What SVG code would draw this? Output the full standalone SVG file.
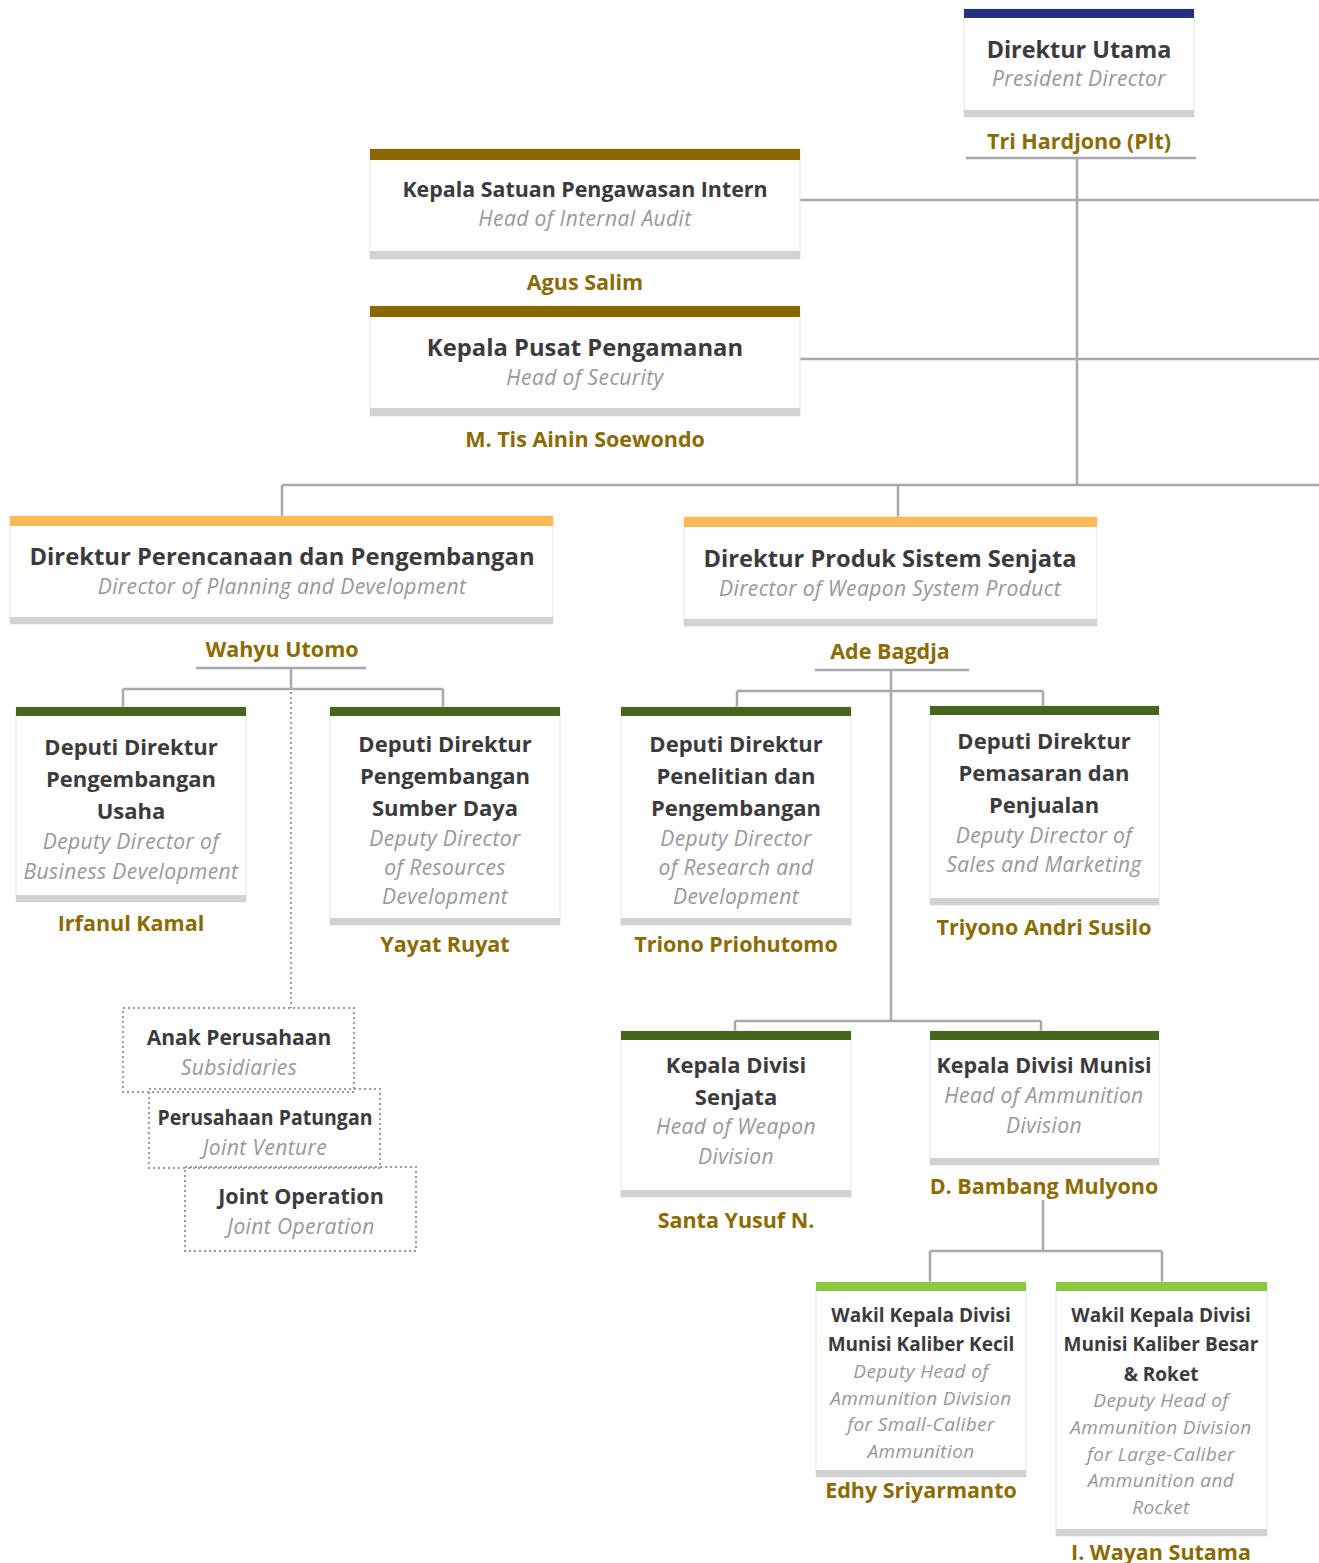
<svg xmlns="http://www.w3.org/2000/svg" width="1319" height="1563" viewBox="0 0 1319 1563">
<style>
text{font-family:"Open Sans","Noto Sans",sans-serif;text-anchor:middle}
.t{font-weight:700;fill:#3b3b3d}
.s{font-style:italic;font-weight:400;fill:#96989b;letter-spacing:0.4px}
.n{font-weight:700;fill:#8b6b00;font-size:21.5px}
.bx{fill:#fff;stroke:#e4e5e6;stroke-width:1}
.gb{fill:#d1d2d4}
.navy{fill:#24317e}
.gold{fill:#8b6700}
.org{fill:#fdb955}
.dg{fill:#46661c}
.lg{fill:#8dc63f}
.c{stroke:#a7a9ac;stroke-width:2.5;fill:none}
.d{stroke:#9a9a9a;stroke-width:2;stroke-dasharray:2 3;fill:none}
</style>
<g id="connectors">
<path class="c" d="M966 158H1196M1077 158V485M800 200H1319M800 359H1319M282 485H1319M282 485V516M898 485V517"/>
<path class="c" d="M196 668H366M291 668V689M123 689H443M123 689V707M443 689V707"/>
<path class="d" d="M291 692V1008"/>
<path class="c" d="M815 670H969M891 670V1021M737 691H1043M737 691V707M1043 691V706M735 1021H1041M735 1021V1031M1041 1021V1031"/>
<path class="c" d="M1043 1200V1251M930 1251H1162M930 1251V1282M1162 1251V1282"/>
</g>
<g id="direktur-utama">
<rect class="bx" x="964" y="9" width="230" height="108"/>
<rect class="navy" x="964" y="9" width="230" height="9"/>
<rect class="gb" x="964" y="110" width="230" height="7"/>
<text class="t" x="1079" y="58" font-size="23.4">Direktur Utama</text>
<text class="s" x="1079" y="86" font-size="21">President Director</text>
<text class="n" x="1079" y="149">Tri Hardjono (Plt)</text>
</g>
<g id="kepala-spi">
<rect class="bx" x="370" y="149" width="430" height="110"/>
<rect class="gold" x="370" y="149" width="430" height="11"/>
<rect class="gb" x="370" y="251" width="430" height="8"/>
<text class="t" x="585" y="197" font-size="21.4">Kepala Satuan Pengawasan Intern</text>
<text class="s" x="585" y="226" font-size="21">Head of Internal Audit</text>
<text class="n" x="585" y="290">Agus Salim</text>
</g>
<g id="kepala-pusat-pengamanan">
<rect class="bx" x="370" y="306" width="430" height="110"/>
<rect class="gold" x="370" y="306" width="430" height="11"/>
<rect class="gb" x="370" y="408" width="430" height="8"/>
<text class="t" x="585" y="356" font-size="23.8">Kepala Pusat Pengamanan</text>
<text class="s" x="585" y="385" font-size="21">Head of Security</text>
<text class="n" x="585" y="447">M. Tis Ainin Soewondo</text>
</g>
<g id="direktur-perencanaan">
<rect class="bx" x="10" y="516" width="543" height="108"/>
<rect class="org" x="10" y="516" width="543" height="10"/>
<rect class="gb" x="10" y="617" width="543" height="7"/>
<text class="t" x="282" y="565" font-size="23.8">Direktur Perencanaan dan Pengembangan</text>
<text class="s" x="282" y="594" font-size="21">Director of Planning and Development</text>
<text class="n" x="282" y="657">Wahyu Utomo</text>
</g>
<g id="direktur-produk">
<rect class="bx" x="684" y="517" width="413" height="109"/>
<rect class="org" x="684" y="517" width="413" height="10"/>
<rect class="gb" x="684" y="619" width="413" height="7"/>
<text class="t" x="890" y="567" font-size="23.7">Direktur Produk Sistem Senjata</text>
<text class="s" x="890" y="596" font-size="21">Director of Weapon System Product</text>
<text class="n" x="890" y="659">Ade Bagdja</text>
</g>
<g id="deputi-usaha">
<rect class="bx" x="16" y="707" width="230" height="195"/>
<rect class="dg" x="16" y="707" width="230" height="9"/>
<rect class="gb" x="16" y="895" width="230" height="7"/>
<text class="t" x="131" y="755" font-size="22">Deputi Direktur</text>
<text class="t" x="131" y="787" font-size="22">Pengembangan</text>
<text class="t" x="131" y="819" font-size="22">Usaha</text>
<text class="s" x="131" y="849" font-size="21">Deputy Director of</text>
<text class="s" x="131" y="879" font-size="21">Business Development</text>
<text class="n" x="131" y="931">Irfanul Kamal</text>
</g>
<g id="deputi-sumber-daya">
<rect class="bx" x="330" y="707" width="230" height="218"/>
<rect class="dg" x="330" y="707" width="230" height="9"/>
<rect class="gb" x="330" y="918" width="230" height="7"/>
<text class="t" x="445" y="752" font-size="22">Deputi Direktur</text>
<text class="t" x="445" y="784" font-size="22">Pengembangan</text>
<text class="t" x="445" y="816" font-size="22">Sumber Daya</text>
<text class="s" x="445" y="846" font-size="21">Deputy Director</text>
<text class="s" x="445" y="875" font-size="21">of Resources</text>
<text class="s" x="445" y="904" font-size="21">Development</text>
<text class="n" x="445" y="952">Yayat Ruyat</text>
</g>
<g id="deputi-penelitian">
<rect class="bx" x="621" y="707" width="230" height="218"/>
<rect class="dg" x="621" y="707" width="230" height="9"/>
<rect class="gb" x="621" y="918" width="230" height="7"/>
<text class="t" x="736" y="752" font-size="22">Deputi Direktur</text>
<text class="t" x="736" y="784" font-size="22">Penelitian dan</text>
<text class="t" x="736" y="816" font-size="22">Pengembangan</text>
<text class="s" x="736" y="846" font-size="21">Deputy Director</text>
<text class="s" x="736" y="875" font-size="21">of Research and</text>
<text class="s" x="736" y="904" font-size="21">Development</text>
<text class="n" x="736" y="952">Triono Priohutomo</text>
</g>
<g id="deputi-pemasaran">
<rect class="bx" x="930" y="706" width="229" height="199"/>
<rect class="dg" x="930" y="706" width="229" height="9"/>
<rect class="gb" x="930" y="898" width="229" height="7"/>
<text class="t" x="1044" y="749" font-size="22">Deputi Direktur</text>
<text class="t" x="1044" y="781" font-size="22">Pemasaran dan</text>
<text class="t" x="1044" y="813" font-size="22">Penjualan</text>
<text class="s" x="1044" y="843" font-size="21">Deputy Director of</text>
<text class="s" x="1044" y="872" font-size="21">Sales and Marketing</text>
<text class="n" x="1044" y="935">Triyono Andri Susilo</text>
</g>
<g id="anak-perusahaan">
<rect class="d" x="123" y="1008" width="231" height="84"/>
<text class="t" x="239" y="1045" font-size="21">Anak Perusahaan</text>
<text class="s" x="239" y="1075" font-size="21">Subsidiaries</text>
</g>
<g id="perusahaan-patungan">
<rect class="d" x="149" y="1089" width="231" height="79"/>
<text class="t" x="265" y="1125" font-size="21" textLength="215" lengthAdjust="spacingAndGlyphs">Perusahaan Patungan</text>
<text class="s" x="265" y="1155" font-size="21">Joint Venture</text>
</g>
<g id="joint-operation">
<rect class="d" x="185" y="1167" width="231" height="84"/>
<text class="t" x="301" y="1204" font-size="21.5">Joint Operation</text>
<text class="s" x="301" y="1234" font-size="21">Joint Operation</text>
</g>
<g id="kepala-divisi-senjata">
<rect class="bx" x="621" y="1031" width="230" height="166"/>
<rect class="dg" x="621" y="1031" width="230" height="9"/>
<rect class="gb" x="621" y="1190" width="230" height="7"/>
<text class="t" x="736" y="1073" font-size="22">Kepala Divisi</text>
<text class="t" x="736" y="1105" font-size="22">Senjata</text>
<text class="s" x="736" y="1134" font-size="21">Head of Weapon</text>
<text class="s" x="736" y="1164" font-size="21">Division</text>
<text class="n" x="736" y="1228">Santa Yusuf N.</text>
</g>
<g id="kepala-divisi-munisi">
<rect class="bx" x="930" y="1031" width="229" height="134"/>
<rect class="dg" x="930" y="1031" width="229" height="9"/>
<rect class="gb" x="930" y="1158" width="229" height="7"/>
<text class="t" x="1044" y="1073" font-size="21.5">Kepala Divisi Munisi</text>
<text class="s" x="1044" y="1103" font-size="21">Head of Ammunition</text>
<text class="s" x="1044" y="1133" font-size="21">Division</text>
<text class="n" x="1044" y="1194">D. Bambang Mulyono</text>
</g>
<g id="wakil-kaliber-kecil">
<rect class="bx" x="816" y="1282" width="210" height="195"/>
<rect class="lg" x="816" y="1282" width="210" height="9"/>
<rect class="gb" x="816" y="1470" width="210" height="7"/>
<text class="t" x="921" y="1322" font-size="19">Wakil Kepala Divisi</text>
<text class="t" x="921" y="1351" font-size="19">Munisi Kaliber Kecil</text>
<text class="s" x="921" y="1378" font-size="19">Deputy Head of</text>
<text class="s" x="921" y="1405" font-size="19">Ammunition Division</text>
<text class="s" x="921" y="1431" font-size="19">for Small-Caliber</text>
<text class="s" x="921" y="1458" font-size="19">Ammunition</text>
<text class="n" x="921" y="1498">Edhy Sriyarmanto</text>
</g>
<g id="wakil-kaliber-besar">
<rect class="bx" x="1056" y="1282" width="211" height="254"/>
<rect class="lg" x="1056" y="1282" width="211" height="9"/>
<rect class="gb" x="1056" y="1529" width="211" height="7"/>
<text class="t" x="1161" y="1322" font-size="19">Wakil Kepala Divisi</text>
<text class="t" x="1161" y="1351" font-size="19">Munisi Kaliber Besar</text>
<text class="t" x="1161" y="1381" font-size="19">&amp; Roket</text>
<text class="s" x="1161" y="1407" font-size="19">Deputy Head of</text>
<text class="s" x="1161" y="1434" font-size="19">Ammunition Division</text>
<text class="s" x="1161" y="1461" font-size="19">for Large-Caliber</text>
<text class="s" x="1161" y="1487" font-size="19">Ammunition and</text>
<text class="s" x="1161" y="1514" font-size="19">Rocket</text>
<text class="n" x="1161" y="1560">I. Wayan Sutama</text>
</g>
</svg>
